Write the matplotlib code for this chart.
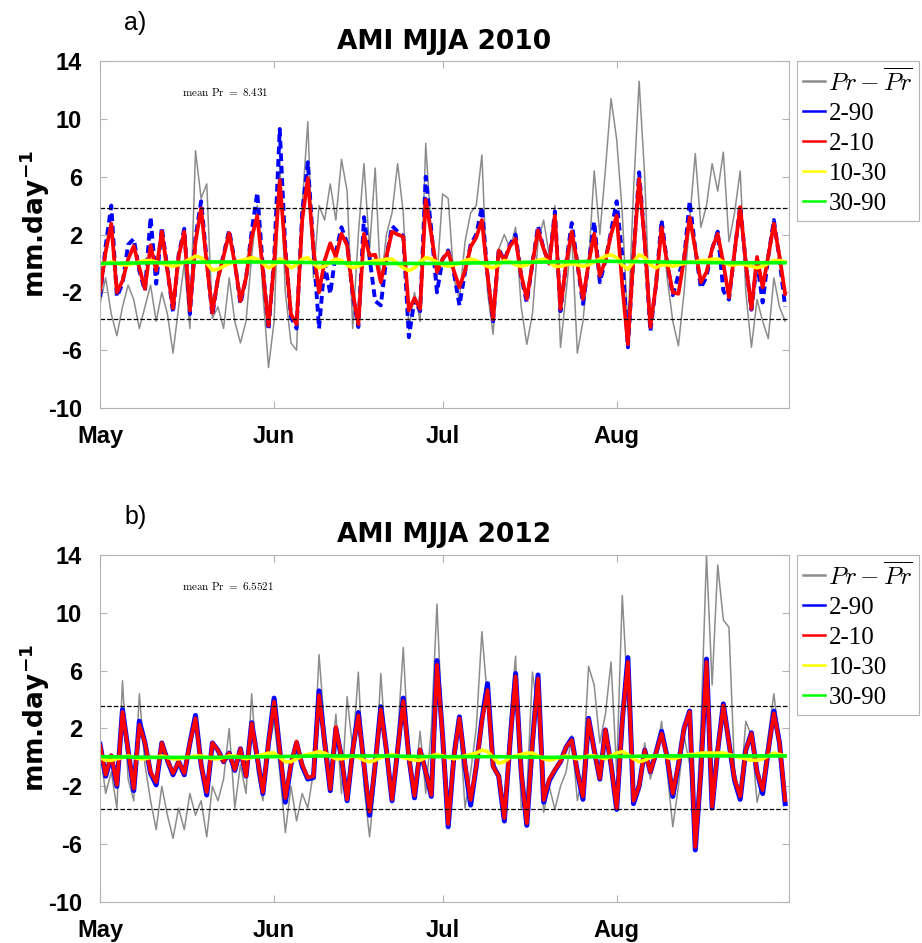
import numpy as np
import matplotlib
matplotlib.use("Agg")
import matplotlib.pyplot as plt
from matplotlib.font_manager import FontProperties

plt.rcParams['font.family'] = ['Liberation Sans', 'DejaVu Sans']
plt.rcParams['axes.unicode_minus'] = False

# ---- data (daily values, day 0 = 1 May) ----
month_labels = ['May', 'Jun', 'Jul', 'Aug']
month_days = [0, 31, 61, 92]
yticks = [-10, -6, -2, 2, 6, 10, 14]

gray_a = [-2.8, -1.0, -3.5, -5.0, -3.0, -1.5, -2.5, -4.5, -3.0, -1.5,
          -4.0, -2.0, -3.5, -6.2, -3.0, 0.0, -4.5, 7.8, 4.5, 5.5,
          -3.8, -3.0, -4.5, -1.0, -4.0, -5.5, -4.0, 0.5, 4.0, -2.0,
          -7.2, -4.0, 7.0, -2.0, -5.5, -6.0, 4.0, 9.8, -1.0, 4.0,
          3.0, 5.5, 3.0, 7.2, 5.0, -4.5, 2.0, 6.9, 1.0, 6.6,
          -1.5, 2.0, 3.5, 6.9, 3.5, -4.6, -2.0, -4.0, 8.3, 2.0,
          -1.0, 4.8, 4.5, -1.0, -2.5, 1.5, 3.5, 4.0, 7.5, -2.0,
          -4.9, 1.0, 2.0, 1.0, 2.5, -3.0, -5.6, -3.5, 1.5, 3.0,
          0.5, 4.0, -5.8, -2.0, 2.0, -6.2, -4.0, 0.0, 6.4, 2.0,
          6.5, 11.4, 8.6, 3.5, -4.5, 5.0, 12.6, 6.0, -4.5, -1.5,
          3.0, -1.0, -4.0, -5.7, -2.0, 3.0, 7.6, 2.5, 4.0, 6.9,
          5.0, 7.7, 1.5, 3.5, 6.4, -2.0, -5.8, -2.5, -4.0, -5.2,
          -1.0, -3.0, -4.0]

blue_a = [-2.3, 1.2, 4.0, -2.3, -1.4, 1.3, 1.7, -0.5, -1.9, 3.2,
          -1.4, 2.5, -0.4, -3.4, 0.6, 2.4, -3.5, 1.8, 4.3, 0.2,
          -3.6, -1.0, 0.6, 2.3, 0.1, -2.8, -1.0, 2.2, 4.9, -0.3,
          -4.6, 0.3, 9.3, 1.0, -3.7, -4.5, 3.5, 7.0, 1.0, -4.5,
          0.0, -2.1, 0.8, 2.5, 1.4, -2.2, -4.4, 3.2, 0.4, -2.6,
          -2.9, 0.4, 2.6, 2.2, 1.9, -5.1, -2.5, -3.3, 6.0, 2.3,
          -2.0, 0.3, 0.9, -0.6, -2.9, -0.6, 1.3, 2.0, 3.9, -0.8,
          -4.0, 1.0, 0.2, 1.3, 2.0, -0.9, -2.7, 0.0, 2.6, 1.0,
          0.0, 3.6, -3.3, 0.0, 2.8, 0.0, -2.8, 0.0, 2.9, -1.3,
          0.2, 2.2, 4.3, 0.5, -5.8, 0.5, 6.3, 1.5, -4.7, -1.5,
          3.0, 0.0, -2.2, -0.8, 0.3, 4.3, 1.0, -1.7, -0.9, 1.0,
          2.2, -1.9, -2.5, 0.8, 4.0, 0.0, -3.2, 0.1, -2.7, 0.5,
          3.0, 0.3, -3.0]

red_a = [-1.9, 0.8, 2.75, -2.0, -1.2, 0.3, 1.2, -0.3, -1.75, 1.25,
         -0.5, 2.2, -0.5, -3.1, 0.5, 2.2, -3.25, 1.5, 3.8, 0.0,
         -3.4, -1.05, 0.5, 2.1, 0.0, -2.6, -1.0, 1.8, 3.3, -0.5,
         -4.3, 0.0, 5.75, 0.8, -3.5, -4.2, 3.0, 5.9, 1.0, -2.0,
         0.2, 1.4, 0.45, 2.05, 1.25, -2.0, -4.2, 2.05, 0.55, 0.6,
         -1.3, 0.5, 2.2, 2.0, 1.85, -3.25, -2.4, -3.15, 4.4, 2.0,
         -0.6, 0.3, 0.8, -0.5, -1.65, -0.5, 1.15, 1.8, 3.0, -0.8,
         -3.85, 0.9, 0.2, 1.2, 1.7, -0.8, -2.45, 0.0, 2.3, 1.0,
         0.0, 3.3, -3.15, 0.0, 2.2, 0.0, -2.45, 0.0, 2.05, -0.85,
         0.2, 2.0, 3.3, -1.5, -5.6, 0.5, 5.85, 1.5, -4.4, -1.5,
         2.5, 0.0, -2.0, -2.1, 0.3, 3.2, 1.0, -1.3, -0.6, 1.0,
         2.05, 0.0, -2.35, 0.8, 3.9, 0.0, -3.15, 0.45, -1.65, 0.5,
         2.75, 0.5, -2.1]

yellow_a = [-0.1, 0.0, 0.1, 0.0, -0.1, -0.1, 0.0, 0.1, 0.2, 0.2,
            0.1, 0.0, -0.1, -0.2, -0.1, 0.1, 0.3, 0.5, 0.4, 0.0,
            -0.45, -0.4, -0.2, 0.0, 0.1, 0.2, 0.3, 0.4, 0.3, 0.0,
            -0.3, -0.1, 0.3, 0.1, -0.3, -0.1, 0.3, 0.4, 0.0, -0.3,
            -0.2, 0.1, 0.3, 0.2, -0.1, -0.3, -0.2, 0.0, 0.1, 0.2,
            0.2, 0.3, 0.3, 0.0, -0.3, -0.5, -0.3, 0.1, 0.4, 0.3,
            0.1, -0.1, -0.2, -0.1, 0.0, 0.2, 0.3, 0.2, 0.0, -0.2,
            -0.3, -0.1, 0.2, 0.1, -0.1, -0.2, -0.1, 0.1, 0.2, 0.3,
            0.1, -0.2, -0.2, -0.1, 0.0, -0.1, -0.2, -0.1, 0.1, 0.3,
            0.5, 0.6, 0.4, -0.1, -0.4, 0.1, 0.6, 0.4, -0.1, -0.3,
            -0.1, -0.1, -0.2, -0.1, 0.0, 0.1, 0.1, 0.2, 0.2, 0.3,
            0.3, 0.1, -0.1, -0.1, 0.0, -0.1, -0.2, -0.3, -0.2, 0.0,
            0.2, 0.2, 0.1]

gray_b = [0.5, -2.5, -1.0, -3.5, 5.3, -1.5, -3.0, 4.4, -0.5, -3.0,
          -5.0, -2.0, -4.0, -5.6, -3.5, -5.0, -2.5, -4.0, -3.0, -5.5,
          -2.0, -3.0, -1.5, 2.0, -3.5, -0.5, -2.5, 4.4, -1.0, -3.0,
          0.5, 2.5, -1.0, -5.2, -2.0, -4.4, -2.5, -3.5, -1.0, 7.1,
          2.0, -1.0, 3.0, -2.5, 4.2, 0.5, 5.9, -2.0, -5.5, -1.5,
          5.8, 0.0, -2.5, 1.5, 7.6, 0.0, -2.0, 1.8, -2.5, 2.0,
          10.6, 1.5, -4.5, 1.0, 2.5, -3.5, -1.0, 2.0, 8.7, 4.0,
          0.0, -1.5, -4.2, 2.5, 7.0, -3.5, -2.5, 5.9, 3.0, -3.8,
          -2.0, -3.6, -2.0, -1.0, 1.5, -3.0, -1.0, 6.3, 5.0, 1.0,
          3.0, 6.6, -1.0, 11.2, 4.0, -2.9, -1.5, 1.0, -1.5, 0.0,
          2.5, -1.0, -4.8, -2.0, 1.5, -0.5, -5.5, 2.0, 14.0, 5.0,
          13.3, 9.5, 9.0, -1.0, -2.5, 2.5, 1.5, -3.1, -1.5, 1.5,
          4.4, 1.0, -2.5]

blue_b = [0.9, -1.3, 0.1, -2.0, 3.3, 0.5, -2.3, 2.5, 1.0, -1.1,
          -1.9, 1.0, -0.2, -1.2, -0.3, -1.2, 1.0, 2.9, -0.5, -2.6,
          1.0, 0.5, -0.3, 0.3, -0.9, 0.6, -1.3, 2.4, 0.0, -2.5,
          1.0, 4.1, 0.5, -3.1, -0.5, 1.0, -0.6, -1.5, -1.4, 4.6,
          1.0, -2.3, 2.0, 0.0, -3.0, 0.5, 3.1, -0.5, -4.0, -0.5,
          3.5, 0.5, -3.0, 0.5, 4.1, 0.0, -2.8, 0.5, -1.0, -2.7,
          6.7, 1.5, -4.8, 0.0, 2.8, -0.6, -3.3, -0.6, 2.6, 5.1,
          -0.6, -1.3, -4.4, 1.0, 5.8, -1.0, -4.7, 1.0, 5.7, -3.1,
          -1.6, -0.9, -0.3, 0.7, 1.3, -1.0, -2.9, 2.7, 0.5, -1.5,
          1.9, -0.5, -3.6, 2.5, 6.9, -3.2, -2.0, 0.5, -1.0, 0.3,
          1.8, 0.0, -2.7, -0.5, 2.0, 3.2, -6.4, -1.0, 6.8, -3.5,
          0.5, 3.7, 1.0, -1.6, -2.9, 0.5, 1.7, -1.0, -2.5, 0.5,
          3.2, 1.0, -3.2]

red_b = [0.85, -1.2, 0.15, -1.9, 3.15, 0.5, -2.15, 2.25, 1.0, -1.0,
         -1.7, 1.0, -0.2, -1.1, -0.3, -1.1, 1.0, 2.7, -0.5, -2.4,
         1.0, 0.5, -0.3, 0.3, -0.85, 0.6, -1.3, 2.35, 0.0, -2.4,
         1.0, 3.85, 0.5, -2.8, -0.5, 1.1, -0.5, -1.4, -1.3, 4.3,
         1.0, -2.2, 2.1, 0.0, -2.9, 0.5, 2.9, -0.5, -3.75, -0.5,
         3.3, 0.5, -2.9, 0.5, 3.9, 0.0, -2.65, 0.55, -1.0, -2.6,
         6.4, 1.5, -4.6, 0.0, 2.7, -0.5, -2.95, -0.6, 2.5, 4.65,
         -0.65, -1.3, -4.2, 1.0, 5.6, -1.0, -4.55, 1.0, 5.45, -2.95,
         -1.5, -0.85, -0.3, 0.7, 1.2, -1.0, -2.7, 2.6, 0.5, -1.45,
         1.9, -0.5, -3.5, 2.5, 6.6, -3.0, -2.0, 0.5, -1.0, 0.3,
         1.65, 0.0, -2.5, -0.5, 2.0, 3.15, -6.2, -1.0, 6.6, -3.4,
         0.5, 3.6, 1.0, -1.5, -2.7, 0.5, 1.65, -1.0, -2.25, 0.5,
         3.05, 1.0, -2.95]

yellow_b = [0.0, -0.2, -0.2, -0.1, 0.0, 0.1, 0.0, -0.1, -0.1, 0.0,
            0.0, 0.1, 0.0, -0.1, -0.1, 0.0, 0.0, 0.1, 0.1, 0.0,
            -0.1, -0.1, 0.0, 0.1, 0.1, 0.0, -0.1, 0.0, 0.1, 0.2,
            0.3, 0.3, 0.0, -0.3, -0.3, -0.1, 0.1, 0.2, 0.3, 0.4,
            0.3, 0.1, -0.1, -0.1, 0.0, 0.1, 0.0, -0.2, -0.3, -0.2,
            0.0, 0.1, 0.2, 0.1, 0.0, -0.1, -0.2, -0.2, 0.0, 0.1,
            0.2, 0.1, 0.0, -0.1, 0.0, 0.1, 0.2, 0.3, 0.5, 0.4,
            0.0, -0.4, -0.3, 0.0, 0.1, 0.2, 0.3, 0.3, 0.1, -0.1,
            -0.2, -0.1, 0.0, 0.1, 0.0, -0.1, 0.0, 0.1, 0.1, 0.0,
            -0.1, 0.1, 0.3, 0.4, 0.2, -0.1, -0.3, -0.2, 0.0, 0.1,
            0.1, 0.0, -0.1, 0.0, 0.1, 0.2, 0.2, 0.3, 0.3, 0.3,
            0.3, 0.3, 0.2, 0.1, 0.0, -0.1, -0.2, -0.2, -0.1, 0.1,
            0.3, 0.2, 0.1]

green_days = [0, 10, 20, 30, 40, 50, 60, 70, 80, 90, 100, 110, 122]
green_a = [0.0, 0.05, 0.1, 0.1, 0.05, 0.0, 0.0, 0.05, 0.1, 0.15, 0.1, 0.05, 0.05]
green_b = [0.05, 0.0, 0.0, 0.05, 0.1, 0.1, 0.05, 0.05, 0.0, 0.05, 0.1, 0.1, 0.1]

thr_a = 3.85
thr_b = 3.58
mean_a = 'mean Pr = 8.431'
mean_b = 'mean Pr = 6.5521'

days = np.arange(len(red_a))

fig = plt.figure(figsize=(9.22, 9.43), dpi=100)
ax_a = fig.add_axes([0.1085, 0.5673, 0.7473, 0.368])
ax_b = fig.add_axes([0.1085, 0.0435, 0.7473, 0.368])

leg_font = FontProperties(family='Liberation Serif', size=18, math_fontfamily='cm')
frame_col = '#b4b4b4'


def panel(ax, gray, blue, red, yellow, green, thr, blue_dashed, title, tag, mean_txt):
    ax.plot(days, gray, color=(0.55, 0.55, 0.55), lw=1.1, label=r'$Pr-\overline{Pr}$')
    if blue_dashed:
        ax.plot(days, blue, color='blue', lw=2.8, ls='--', dashes=(2.0, 1.2), label='2-90')
    else:
        ax.plot(days, blue, color='blue', lw=3.6, label='2-90')
    ax.plot(days, red, color='red', lw=2.7, label='2-10')
    ax.plot(days, yellow, color='yellow', lw=2.6, label='10-30')
    ax.plot(green_days, green, color=(0, 1, 0), lw=2.6, label='30-90')
    ax.axhline(thr, color='k', ls='--', lw=0.9)
    ax.axhline(-thr, color='k', ls='--', lw=0.9)

    ax.set_xlim(0, 122.7)
    ax.set_ylim(-10, 14)
    ax.set_xticks(month_days)
    ax.set_xticklabels(month_labels)
    ax.set_yticks(yticks)
    ax.tick_params(direction='in', top=True, right=True, length=5, width=0.8,
                   color=frame_col, labelsize=17)
    ax.tick_params(axis='y', pad=13)
    ax.tick_params(axis='x', pad=12)
    for lbl in ax.get_xticklabels() + ax.get_yticklabels():
        lbl.set_fontweight('bold')
    for sp in ax.spines.values():
        sp.set_color(frame_col)
        sp.set_linewidth(0.8)

    ax.set_title(title, fontsize=19, fontweight='bold', pad=9, family='DejaVu Sans')
    ax.set_ylabel(r'mm.day$^{\mathbf{-1}}$', fontsize=19, fontweight='bold',
                  family='DejaVu Sans', math_fontfamily='dejavusans')
    ax.yaxis.set_label_coords(-0.07, 0.53)
    ax.text(0.035, 1.11, tag, transform=ax.transAxes, fontsize=18, va='center')
    ax.text(0.119, 0.91, r'$\mathrm{' + mean_txt.replace(' ', r'\ ') + '}$',
            transform=ax.transAxes, fontsize=8, va='center', math_fontfamily='cm')

    leg = ax.legend(loc='upper left', bbox_to_anchor=(1.011, 1.0), prop=leg_font,
                    handlelength=0.9, handletextpad=0.12, borderaxespad=0,
                    labelspacing=0.3, borderpad=0.25, fancybox=False,
                    edgecolor=frame_col, framealpha=1)
    leg.get_frame().set_linewidth(0.8)
    for h in leg.get_lines():
        h.set_linewidth(1.8)
        h.set_linestyle('-')


panel(ax_a, gray_a, blue_a, red_a, yellow_a, green_a, thr_a, True,
      'AMI MJJA 2010', 'a)', mean_a)
panel(ax_b, gray_b, blue_b, red_b, yellow_b, green_b, thr_b, False,
      'AMI MJJA 2012', 'b)', mean_b)

fig.savefig('out.png', dpi=100)
